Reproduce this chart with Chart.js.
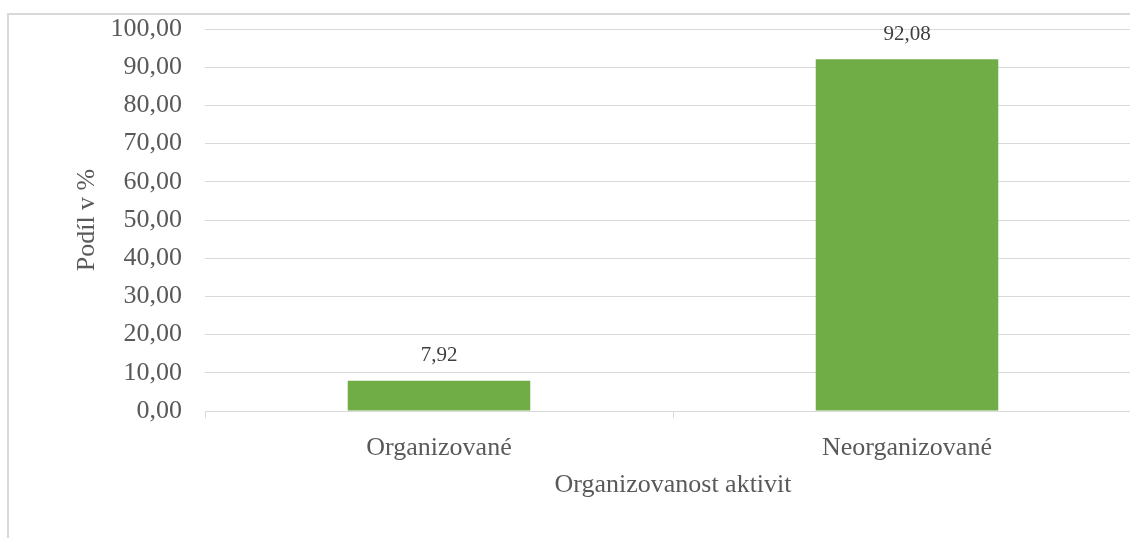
<!DOCTYPE html>
<html>
<head>
<meta charset="utf-8">
<script src="https://cdn.jsdelivr.net/npm/chart.js@4"></script>
<style>
html,body{margin:0;padding:0;background:#fff;overflow:hidden;width:1130px;height:538px;}
#wrap{width:1130px;height:538px;overflow:hidden;position:relative;}
canvas{display:block;}
</style>
</head>
<body>
<div id="wrap"><canvas id="c" width="1150" height="538"></canvas></div>
<script>
const categories = ['Organizované', 'Neorganizované'];
const values = [7.92, 92.08];
const yMin = 0, yMax = 100, yStep = 10;
const xTitle = 'Organizovanost aktivit';
const yTitle = 'Podíl v %';

const fmt = v => Number(v).toFixed(2).replace('.', ',');
const FONT = 'Liberation Serif, "Times New Roman", serif';

const frame = {
  id: 'frame',
  beforeDraw(chart) {
    const ctx = chart.ctx;
    ctx.save();
    ctx.strokeStyle = '#d9d9d9';
    ctx.lineWidth = 2;
    ctx.strokeRect(8, 14, 2000, 2000);
    ctx.restore();
  }
};

const dataLabels = {
  id: 'dataLabels',
  afterDatasetsDraw(chart) {
    const ctx = chart.ctx;
    const meta = chart.getDatasetMeta(0);
    ctx.save();
    ctx.font = '21px ' + FONT;
    ctx.fillStyle = '#404040';
    ctx.textAlign = 'center';
    ctx.textBaseline = 'middle';
    meta.data.forEach((bar, i) => {
      ctx.fillText(fmt(values[i]), bar.x, bar.y - 25);
    });
    ctx.restore();
  }
};

new Chart(document.getElementById('c'), {
  type: 'bar',
  data: {
    labels: categories,
    datasets: [{
      data: values,
      backgroundColor: '#70ad47',
      borderWidth: 0,
      barPercentage: 0.39,
      categoryPercentage: 1.0
    }]
  },
  options: {
    responsive: false,
    animation: false,
    devicePixelRatio: 1,
    layout: { padding: { top: 29, right: 9, bottom: 0, left: 0 } },
    plugins: { legend: { display: false }, tooltip: { enabled: false } },
    scales: {
      x: {
        afterFit(s) { s.height = 127; s.paddingLeft = 0; s.paddingRight = 0; },
        grid: { display: true, drawOnChartArea: false, offset: true, color: '#d9d9d9', tickLength: 7, tickColor: '#d9d9d9' },
        border: { display: true, color: '#d9d9d9', width: 1 },
        ticks: { color: '#595959', font: { family: FONT, size: 26 }, padding: 15 },
        title: { display: true, text: xTitle, color: '#595959', font: { family: FONT, size: 26 }, padding: { top: 0, bottom: 37 } }
      },
      y: {
        min: yMin, max: yMax,
        afterFit(s) { s.width = 205; s.paddingTop = 0; s.paddingBottom = 0; },
        grid: { color: '#d9d9d9', drawTicks: false, lineWidth: 1 },
        border: { display: false },
        ticks: { stepSize: yStep, color: '#595959', font: { family: FONT, size: 26 }, padding: 23, callback: v => fmt(v) },
        title: { display: true, text: yTitle, color: '#595959', font: { family: FONT, size: 26 }, padding: { top: 72, bottom: 0 } }
      }
    }
  },
  plugins: [frame, dataLabels]
});
</script>
</body>
</html>
